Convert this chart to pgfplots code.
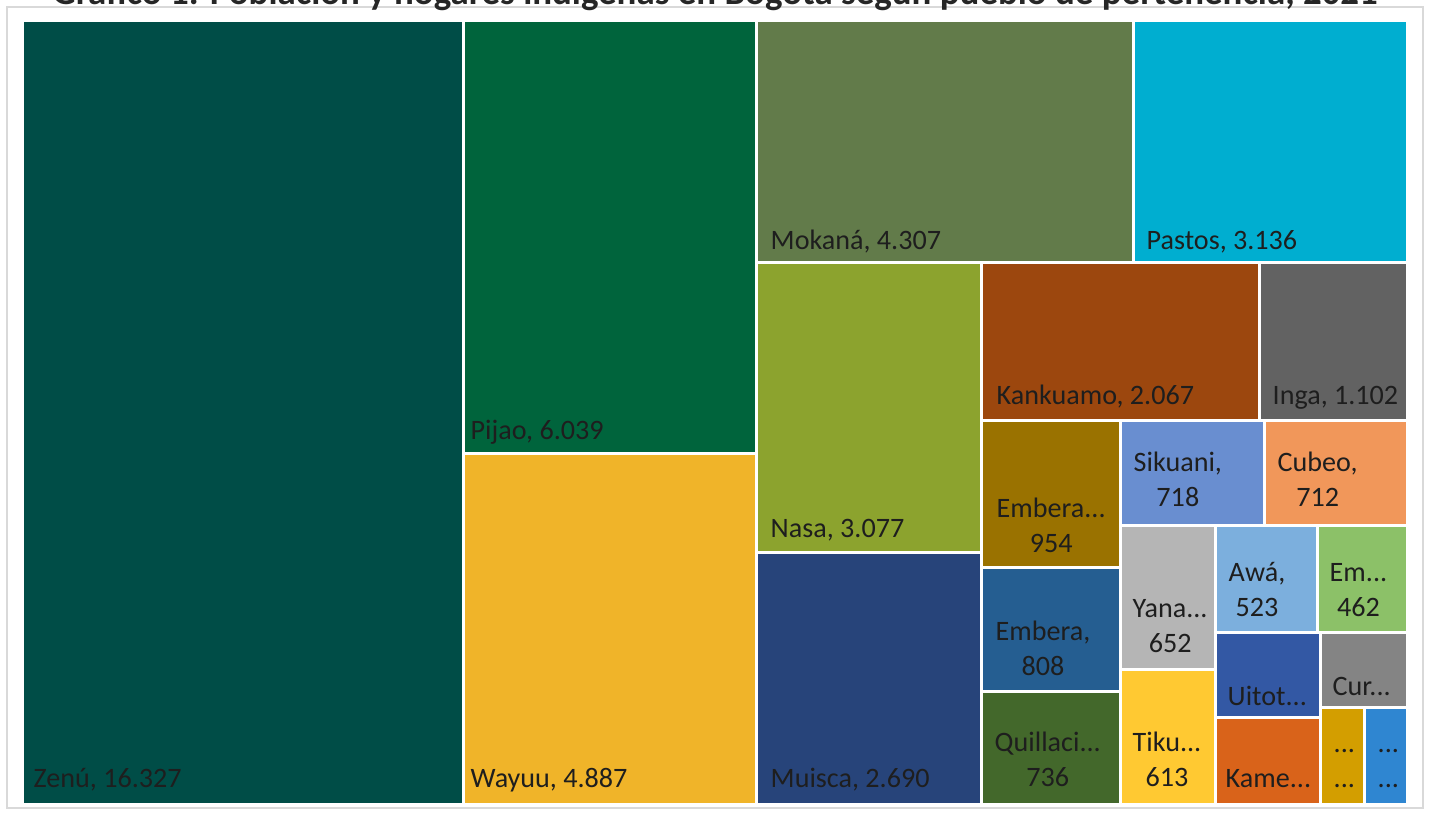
\documentclass[border=0pt]{standalone}
\usepackage{pgfplots}
\pgfplotsset{compat=1.18}
\usepackage{fontspec}
\setmainfont{Carlito}
\definecolor{cZenu}{HTML}{004D47}
\definecolor{cPijao}{HTML}{00643C}
\definecolor{cWayuu}{HTML}{F0B429}
\definecolor{cMokana}{HTML}{627B4A}
\definecolor{cPastos}{HTML}{00AED0}
\definecolor{cNasa}{HTML}{8CA32E}
\definecolor{cMuisca}{HTML}{27447A}
\definecolor{cKankuamo}{HTML}{9C470E}
\definecolor{cInga}{HTML}{626262}
\definecolor{cEmberaA}{HTML}{9A7200}
\definecolor{cEmberaB}{HTML}{255E91}
\definecolor{cQuill}{HTML}{43682B}
\definecolor{cSikuani}{HTML}{698ED0}
\definecolor{cCubeo}{HTML}{F1975A}
\definecolor{cYana}{HTML}{B5B5B5}
\definecolor{cTiku}{HTML}{FFC932}
\definecolor{cAwa}{HTML}{7CAFDD}
\definecolor{cEmC}{HTML}{8CC168}
\definecolor{cUitoto}{HTML}{3358A4}
\definecolor{cKame}{HTML}{D9631A}
\definecolor{cCur}{HTML}{848484}
\definecolor{cGold}{HTML}{D39E00}
\definecolor{cBlue}{HTML}{2F86D1}
\definecolor{txt}{HTML}{1E1E1E}
\newcommand{\lbl}{\fontsize{8}{9.9}\selectfont}
\newcommand{\lab}[3]{\node[anchor=base west, inner sep=0pt, font=\lbl, text=txt] at (axis cs:#1,#2) {#3};}
\newcommand{\labb}[4]{\node[anchor=base west, inner sep=0pt, font=\lbl, text=txt] at (axis cs:#1,#2) {\begin{tabular}[b]{@{}c@{}}#3\\#4\end{tabular}};}
\begin{document}
\begin{tikzpicture}
\begin{axis}[
  width=143mm, height=81.2mm, scale only axis,
  xmin=0, xmax=1430, ymin=0, ymax=812,
  y dir=reverse, hide axis,
  every axis plot/.append style={draw=white, line width=0.3mm},
]
\path (axis cs:0,0) rectangle (axis cs:1430,812);
\draw[color=black!15, line width=0.15mm] (axis cs:7,7) rectangle (axis cs:1423,808);
% treemap cells (pixel layout, areas proportional to values)
\addplot[fill=cZenu] coordinates {(22.5,20.5) (463,20.5) (463,804.5) (22.5,804.5)} -- cycle;
\addplot[fill=cPijao] coordinates {(463,20.5) (756.5,20.5) (756.5,453.5) (463,453.5)} -- cycle;
\addplot[fill=cWayuu] coordinates {(463,453.5) (756.5,453.5) (756.5,804.5) (463,804.5)} -- cycle;
\addplot[fill=cMokana] coordinates {(756.5,20.5) (1133,20.5) (1133,262) (756.5,262)} -- cycle;
\addplot[fill=cPastos] coordinates {(1133,20.5) (1407.5,20.5) (1407.5,262) (1133,262)} -- cycle;
\addplot[fill=cNasa] coordinates {(756.5,262) (981.5,262) (981.5,552) (756.5,552)} -- cycle;
\addplot[fill=cMuisca] coordinates {(756.5,552) (981.5,552) (981.5,804.5) (756.5,804.5)} -- cycle;
\addplot[fill=cKankuamo] coordinates {(981.5,262) (1259.5,262) (1259.5,420.5) (981.5,420.5)} -- cycle;
\addplot[fill=cInga] coordinates {(1259.5,262) (1407.5,262) (1407.5,420.5) (1259.5,420.5)} -- cycle;
\addplot[fill=cEmberaA] coordinates {(981.5,420.5) (1120,420.5) (1120,567) (981.5,567)} -- cycle;
\addplot[fill=cEmberaB] coordinates {(981.5,567) (1120,567) (1120,691) (981.5,691)} -- cycle;
\addplot[fill=cQuill] coordinates {(981.5,691) (1120,691) (1120,804.5) (981.5,804.5)} -- cycle;
\addplot[fill=cSikuani] coordinates {(1120,420.5) (1264,420.5) (1264,525) (1120,525)} -- cycle;
\addplot[fill=cCubeo] coordinates {(1264,420.5) (1407.5,420.5) (1407.5,525) (1264,525)} -- cycle;
\addplot[fill=cYana] coordinates {(1120,525) (1215.5,525) (1215.5,669) (1120,669)} -- cycle;
\addplot[fill=cTiku] coordinates {(1120,669) (1215.5,669) (1215.5,804.5) (1120,804.5)} -- cycle;
\addplot[fill=cAwa] coordinates {(1215.5,525) (1317.5,525) (1317.5,632.5) (1215.5,632.5)} -- cycle;
\addplot[fill=cEmC] coordinates {(1317.5,525) (1407.5,525) (1407.5,632.5) (1317.5,632.5)} -- cycle;
\addplot[fill=cUitoto] coordinates {(1215.5,632.5) (1320,632.5) (1320,717.5) (1215.5,717.5)} -- cycle;
\addplot[fill=cKame] coordinates {(1215.5,717.5) (1320,717.5) (1320,804.5) (1215.5,804.5)} -- cycle;
\addplot[fill=cCur] coordinates {(1320,632.5) (1407.5,632.5) (1407.5,707.5) (1320,707.5)} -- cycle;
\addplot[fill=cGold] coordinates {(1320,707.5) (1364.5,707.5) (1364.5,804.5) (1320,804.5)} -- cycle;
\addplot[fill=cBlue] coordinates {(1364.5,707.5) (1407.5,707.5) (1407.5,804.5) (1364.5,804.5)} -- cycle;
% labels
\lab{33}{787}{Zenú, 16.327}
\lab{470}{439}{Pijao, 6.039}
\lab{470}{787}{Wayuu, 4.887}
\lab{770}{249}{Mokaná, 4.307}
\lab{1146}{249}{Pastos, 3.136}
\lab{770}{537}{Nasa, 3.077}
\lab{770}{787}{Muisca, 2.690}
\lab{996}{404}{Kankuamo, 2.067}
\lab{1272}{404}{Inga, 1.102}
\lab{1332}{695}{Cur...}
\lab{1227}{705}{Uitot...}
\lab{1225}{787}{Kame...}
\labb{996}{552}{Embera...}{954}
\labb{995}{675}{Embera,}{808}
\labb{994}{786}{Quillaci...}{736}
\labb{1133}{506}{Sikuani,}{718}
\labb{1277}{506}{Cubeo,}{712}
\labb{1132}{652}{Yana...}{652}
\labb{1132}{786}{Tiku...}{613}
\labb{1228}{616}{Awá,}{523}
\labb{1329}{616}{Em...}{462}
\labb{1333}{787}{...}{...}
\labb{1377}{787}{...}{...}
\end{axis}
\node[overlay, anchor=base, inner sep=0pt, font=\bfseries\fontsize{10.5}{12}\selectfont, text=black!85] at (71.5mm,80.8mm) {Gráfico 1. Población y hogares indígenas en Bogotá según pueblo de pertenencia, 2021};
\end{tikzpicture}
\end{document}
